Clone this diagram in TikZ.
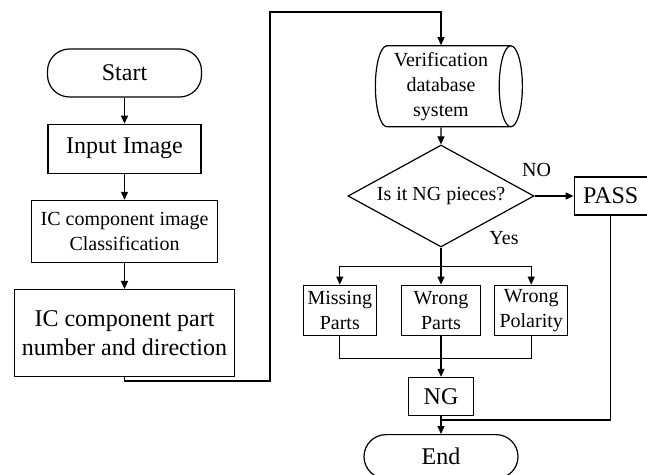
\documentclass[tikz,border=0pt]{standalone}
\usepackage{fontspec}
\setmainfont{Liberation Serif}
\usetikzlibrary{arrows.meta,positioning,shapes.geometric}

\begin{document}
\begin{tikzpicture}[x=0.5pt,y=-0.5pt,node distance=13pt,box/.style={draw,line width=0.6pt,align=center,inner sep=1pt,font=\fontsize{12}{14.5}\selectfont},smalltext/.style={font=\fontsize{10}{12.5}\selectfont},term/.style={box,rounded corners=11pt,minimum width=77pt,minimum height=24pt},arr/.style={-{Triangle[length=4pt,width=3.5pt]},line width=0.6pt},wire/.style={line width=0.6pt},lbl/.style={font=\fontsize{10}{12}\selectfont,inner sep=0pt}]
\useasboundingbox (0,0) rectangle (647,475);
\node[term] (start) at (124.5,73) {Start};
\node[box,below=of start,minimum width=76.5pt,minimum height=24.5pt] (input) {Input Image};
\node[box,smalltext,below=of input,minimum width=93pt,minimum height=31pt] (classify) {IC component image\\Classification};
\node[box,below=of classify,minimum width=110pt,minimum height=43.5pt] (part) {IC component part\\number and direction};
\node[box,smalltext,diamond,aspect=1.82,minimum width=93pt,minimum height=51pt] (check) at (441,196) {Is it NG pieces?};
\node[box,smalltext,cylinder,aspect=0.32,minimum height=73.5pt,minimum width=40.5pt,above=8.5pt of check] (db) {Verification\\database\\system};
\node[box,right=19.5pt of check,minimum width=36.5pt,minimum height=19pt] (pass) {PASS};
\node[box,smalltext,below=18.5pt of check,minimum width=39.5pt,minimum height=25pt] (wrongparts) {Wrong\\Parts};
\node[box,smalltext,left=12pt of wrongparts,minimum width=36.5pt,minimum height=25pt] (missing) {Missing\\Parts};
\node[box,smalltext,right=6.5pt of wrongparts,minimum width=36.5pt,minimum height=25pt] (polarity) {Wrong\\Polarity};
\node[box,below=20.5pt of wrongparts,minimum width=32.5pt,minimum height=19pt] (ng) {NG};
\node[term,below=9pt of ng,minimum height=22pt] (end) {End};
\node[lbl] (yes) at (504,238) {Yes};
\coordinate (jog) at (270,381);
\coordinate (top) at (270,12);
\coordinate[below=9.5pt of check] (split);
\coordinate[below=11.5pt of wrongparts] (merge);
\coordinate[below=2pt of ng] (join);
\draw[arr] (start)--(input);
\draw[arr] (input)--(classify);
\draw[arr] (classify)--(part);
\draw[arr] (part.south) |- (jog) -- (top) -| (db.north);
\draw[arr] (db)--(check);
\draw[arr] (check)--node[lbl,pos=0.05,above=9.5pt] (no) {NO}(pass);
\draw[wire] (check)--(split);
\draw[arr] (split) -| (missing.north);
\draw[arr] (split)--(wrongparts);
\draw[arr] (split) -| (polarity.north);
\draw[wire] (missing.south) |- (merge) -| (polarity.south);
\draw[arr] (wrongparts)--(ng);
\draw[wire] (pass.south) |- (join);
\draw[arr] (ng)--(end);
\end{tikzpicture}
\end{document}
